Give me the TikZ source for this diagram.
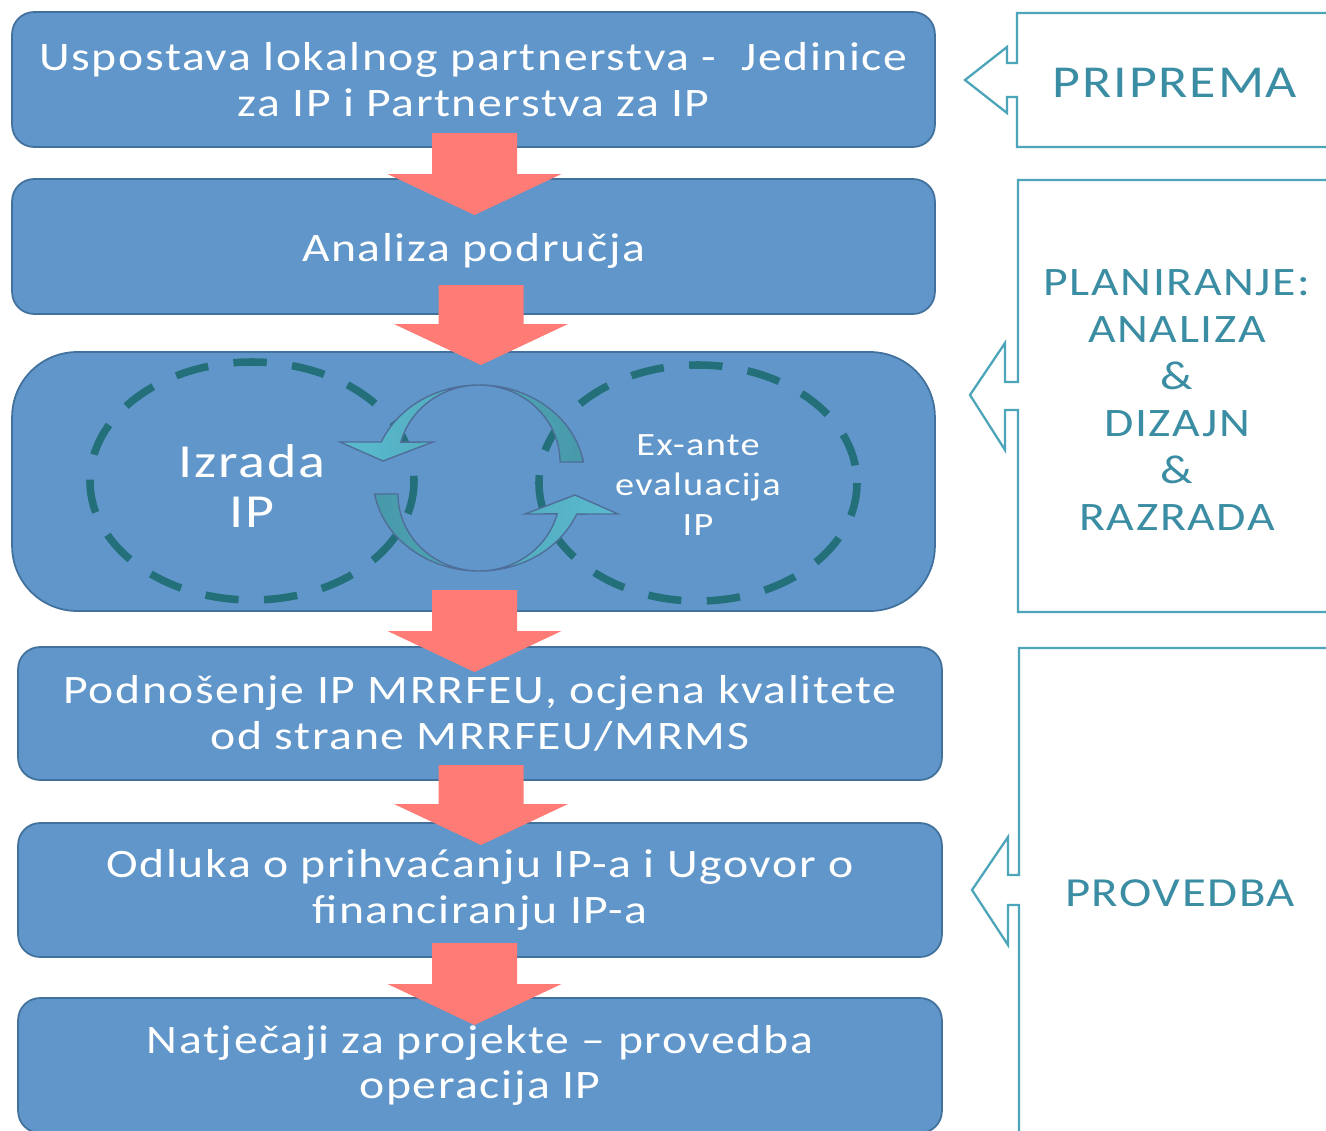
\documentclass[tikz,border=0pt]{standalone}
\usepackage{fontspec}
\setmainfont{Carlito}[FakeStretch=1.18,LetterSpace=4]
\definecolor{boxblue}{HTML}{6096C9}
\definecolor{boxline}{HTML}{41719C}
\definecolor{flowred}{HTML}{FF7B76}
\definecolor{ringteal}{HTML}{23707A}
\definecolor{cycdark}{HTML}{4799A8}
\definecolor{cyclight}{HTML}{5BBBD0}
\definecolor{cycline}{HTML}{4F6E9A}
\definecolor{phaseline}{HTML}{4DA5BA}
\definecolor{phasetext}{HTML}{3A8DA3}

\tikzset{
    stage/.style={draw=boxline, line width=1pt, fill=boxblue, rounded corners=0.44cm,
        minimum width=18.46cm, minimum height=2.7cm, text=white, align=center,
        font=\fontsize{23}{26}\selectfont},
    dashring/.style={draw=ringteal, line width=4.3pt, dash pattern=on 19pt off 14.5pt},
    cycarrow/.style={draw=cycline, line width=0.8pt},
    phase/.style={draw=phaseline, line width=1.3pt},
    phasetag/.style={text=phasetext, align=center, font=\fontsize{23}{26.7}\selectfont}
}

% block arrow between two stages: centre x, top y, tip y
\newcommand\flowarrow[3]{%
    \fill[flowred] (#1-42.5,#2) -- (#1+42.5,#2) -- (#1+42.5,#3-41) -- (#1+87,#3-41)
        -- (#1,#3) -- (#1-87,#3-41) -- (#1-42.5,#3-41) -- cycle;}

\begin{document}
\begin{tikzpicture}[x=0.02cm, y=-0.02cm]
    \fill[white] (0,0) rectangle (1326,1130);
    \useasboundingbox (0,0) rectangle (1326,1130);

    % stages
    \node[stage] (prep) at (473.5,79.5) {Uspostava lokalnog partnerstva - \ Jedinice\\za IP i Partnerstva za IP};
    \node[stage] (area) at (473.5,246.5) {};
    \node[text=white, font=\fontsize{23}{26}\selectfont] (areatext) at (473.5,251) {Analiza područja};
    \node[stage, minimum height=5.18cm, rounded corners=1.3cm] (design) at (473.5,481.5) {};
    \node[stage, minimum width=18.48cm, minimum height=2.66cm] (submit) at (480,713.5) {Podnošenje IP MRRFEU, ocjena kvalitete\\od strane MRRFEU/MRMS};
    \node[stage, minimum width=18.48cm, minimum height=2.68cm] (decide) at (480,890) {Odluka o prihvaćanju IP-a i Ugovor o\\financiranju IP-a};
    \node[stage, minimum width=18.48cm] (calls) at (480,1065.5) {Natječaji za projekte – provedba\\operacija IP};

    % inner cycle of the design stage
    \draw[dashring] (252,481) ellipse [x radius=162, y radius=119];
    \draw[dashring] (698,483) ellipse [x radius=159, y radius=118];
    \draw[cycarrow, left color=cyclight, right color=cycdark]
        (583.4,462) arc[start angle=-9.9, end angle=-157.2, x radius=106, y radius=93]
        -- (340,442) -- (383,461) -- (433,442) -- (400.8,442.1)
        arc[start angle=-165, end angle=0, x radius=81, y radius=77] -- cycle;
    \draw[cycarrow, left color=cycdark, right color=cyclight]
        (374.6,494) arc[start angle=170.1, end angle=22.8, x radius=106, y radius=93]
        -- (618,514) -- (575,495) -- (525,514) -- (557.2,513.9)
        arc[start angle=15, end angle=180, x radius=81, y radius=77] -- cycle;
    \node[text=white, align=center, font=\fontsize{27}{29}\selectfont] (izrada) at (252,486) {Izrada\\IP};
    \node[text=white, align=center, font=\fontsize{18.5}{22.7}\selectfont] (exante) at (698,485) {Ex-ante\\evaluacija\\IP};

    % arrows between stages
    \flowarrow{474.5}{133}{215}
    \flowarrow{481}{285}{365}
    \flowarrow{474.5}{590}{672}
    \flowarrow{481}{765}{845}
    \flowarrow{474.5}{943}{1025}

    % phases
    \draw[phase] (1340,13) -- (1017,13) -- (1017,63) -- (1007,63) -- (1007,47) -- (965,80)
        -- (1007,113) -- (1007,97) -- (1017,97) -- (1017,147) -- (1340,147);
    \draw[phase] (1340,180) -- (1018,180) -- (1018,382) -- (1005,382) -- (1005,343) -- (970,395)
        -- (1005,450) -- (1005,410) -- (1018,410) -- (1018,612) -- (1340,612);
    \draw[phase] (1340,648) -- (1019,648) -- (1019,875) -- (1008,875) -- (1008,837) -- (972,890)
        -- (1008,945) -- (1008,905) -- (1019,905) -- (1019,1140);
    \node[phasetag, font=\fontsize{26}{27}\selectfont] (pripr) at (1175,83) {PRIPREMA};
    \node[phasetag] (planir) at (1177,400) {PLANIRANJE:\\ANALIZA\\\&\\DIZAJN\\\&\\RAZRADA};
    \node[phasetag, font=\fontsize{23.5}{27}\selectfont] (proved) at (1180,893) {PROVEDBA};
\end{tikzpicture}
\end{document}
